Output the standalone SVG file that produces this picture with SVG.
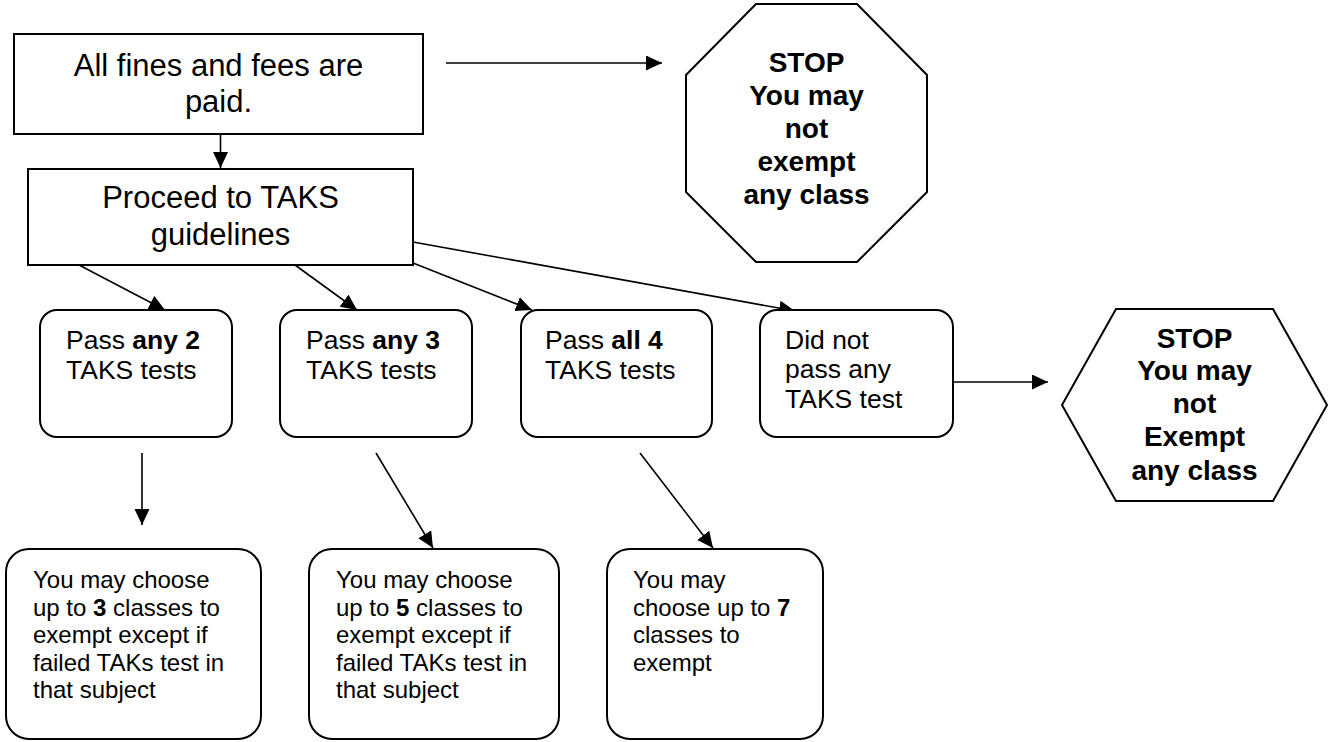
<svg xmlns="http://www.w3.org/2000/svg" width="1330" height="742" viewBox="0 0 1330 742">
<style>
.box{fill:#fff;stroke:#000;stroke-width:2}
.t{font-family:"Liberation Sans",Arial,sans-serif;fill:#000}
.big{font-size:31px}
.mid{font-size:26.5px}
.sm{font-size:24px}
.stop{font-size:28px;font-weight:bold}
.b{font-weight:bold}
.ln{stroke:#000;stroke-width:1.6;fill:none;marker-end:url(#ah)}
</style>
<defs>
<marker id="ah" markerUnits="userSpaceOnUse" markerWidth="18" markerHeight="16" refX="16" refY="7.5" orient="auto">
<path d="M0,0 L16,7.5 L0,15 z" fill="#000"/>
</marker>
</defs>
<rect width="1330" height="742" fill="#fff"/>
<g id="connectors">
<line class="ln" x1="220.5" y1="135" x2="220.5" y2="168"/>
<line class="ln" x1="446" y1="63" x2="662" y2="63"/>
<line class="ln" x1="79" y1="265" x2="165" y2="310"/>
<line class="ln" x1="295" y1="265" x2="357" y2="310"/>
<line class="ln" x1="413" y1="263" x2="532" y2="310"/>
<line class="ln" x1="413" y1="242" x2="795" y2="311"/>
<line class="ln" x1="953" y1="382" x2="1048" y2="382"/>
<line class="ln" x1="142" y1="453" x2="142" y2="525"/>
<line class="ln" x1="376" y1="453" x2="433" y2="548"/>
<line class="ln" x1="640" y1="453" x2="713" y2="548"/>
</g>
<g id="fines">
<rect class="box" x="14" y="34" width="409" height="100"/>
<text class="t big" text-anchor="middle" x="218.5" y="76">All fines and fees are</text>
<text class="t big" text-anchor="middle" x="218.5" y="112">paid.</text>
</g>
<g id="proceed">
<rect class="box" x="28" y="169" width="385" height="96"/>
<text class="t big" text-anchor="middle" x="220.5" y="208">Proceed to TAKS</text>
<text class="t big" text-anchor="middle" x="220.5" y="245">guidelines</text>
</g>
<g id="stop1">
<polygon class="box" points="756,4 857,4 927,75 927,192 857,262 756,262 686,192 686,75"/>
<text class="t stop" text-anchor="middle" x="806.5" y="72">STOP</text>
<text class="t stop" text-anchor="middle" x="806.5" y="105">You may</text>
<text class="t stop" text-anchor="middle" x="806.5" y="138">not</text>
<text class="t stop" text-anchor="middle" x="806.5" y="171">exempt</text>
<text class="t stop" text-anchor="middle" x="806.5" y="204">any class</text>
</g>
<g id="pass2">
<rect class="box" x="40" y="310" width="192" height="127" rx="17"/>
<text class="t mid" x="66" y="349">Pass <tspan class="b">any 2</tspan></text>
<text class="t mid" x="66" y="379">TAKS tests</text>
</g>
<g id="pass3">
<rect class="box" x="280" y="310" width="192" height="127" rx="17"/>
<text class="t mid" x="306" y="349">Pass <tspan class="b">any 3</tspan></text>
<text class="t mid" x="306" y="379">TAKS tests</text>
</g>
<g id="pass4">
<rect class="box" x="521" y="310" width="191" height="127" rx="17"/>
<text class="t mid" x="545" y="349">Pass <tspan class="b">all 4</tspan></text>
<text class="t mid" x="545" y="379">TAKS tests</text>
</g>
<g id="passnone">
<rect class="box" x="760" y="310" width="193" height="127" rx="17"/>
<text class="t mid" x="785" y="349">Did not</text>
<text class="t mid" x="785" y="378">pass any</text>
<text class="t mid" x="785" y="408">TAKS test</text>
</g>
<g id="stop2">
<polygon class="box" points="1116,309 1273,309 1327,405 1273,501 1116,501 1062,405"/>
<text class="t stop" text-anchor="middle" x="1194.5" y="348">STOP</text>
<text class="t stop" text-anchor="middle" x="1194.5" y="380">You may</text>
<text class="t stop" text-anchor="middle" x="1194.5" y="413">not</text>
<text class="t stop" text-anchor="middle" x="1194.5" y="446">Exempt</text>
<text class="t stop" text-anchor="middle" x="1194.5" y="480">any class</text>
</g>
<g id="choose3">
<rect class="box" x="6" y="549" width="255" height="190" rx="23"/>
<text class="t sm" x="33" y="588">You may choose</text>
<text class="t sm" x="33" y="616">up to <tspan class="b">3</tspan> classes to</text>
<text class="t sm" x="33" y="643">exempt except if</text>
<text class="t sm" x="33" y="671">failed TAKs test in</text>
<text class="t sm" x="33" y="698">that subject</text>
</g>
<g id="choose5">
<rect class="box" x="309" y="549" width="250" height="190" rx="23"/>
<text class="t sm" x="336" y="588">You may choose</text>
<text class="t sm" x="336" y="616">up to <tspan class="b">5</tspan> classes to</text>
<text class="t sm" x="336" y="643">exempt except if</text>
<text class="t sm" x="336" y="671">failed TAKs test in</text>
<text class="t sm" x="336" y="698">that subject</text>
</g>
<g id="choose7">
<rect class="box" x="607" y="549" width="216" height="190" rx="23"/>
<text class="t sm" x="633" y="588">You may</text>
<text class="t sm" x="633" y="616">choose up to <tspan class="b">7</tspan></text>
<text class="t sm" x="633" y="643">classes to</text>
<text class="t sm" x="633" y="671">exempt</text>
</g>
</svg>
